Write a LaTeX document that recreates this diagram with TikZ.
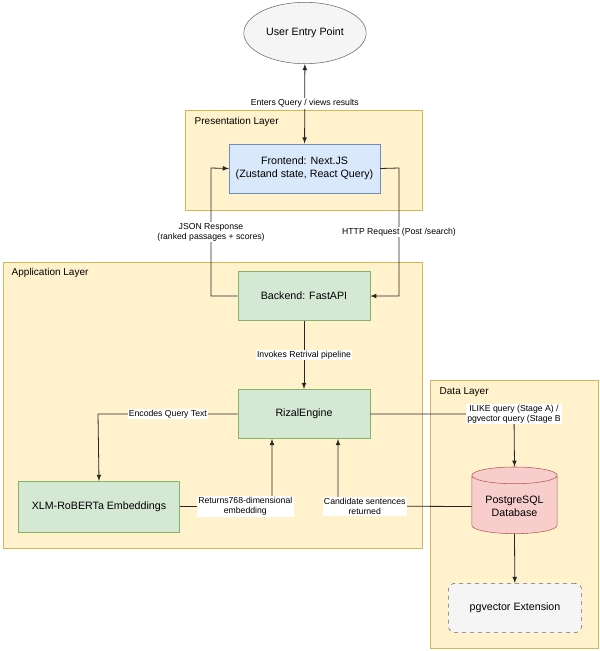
\documentclass[tikz,border=0pt]{standalone}
\usepackage{fontspec}
\setmainfont{Liberation Sans}
\usetikzlibrary{shapes.geometric}
\definecolor{layerfill}{HTML}{FFF2CC}
\definecolor{layerdraw}{HTML}{D6B656}
\definecolor{bluefill}{HTML}{DAE8FC}
\definecolor{bluedraw}{HTML}{6C8EBF}
\definecolor{greenfill}{HTML}{D5E8D4}
\definecolor{greendraw}{HTML}{82B366}
\definecolor{redfill}{HTML}{F8CECC}
\definecolor{reddraw}{HTML}{B85450}
\definecolor{grayfill}{HTML}{F5F5F5}
\definecolor{graydraw}{HTML}{666666}
\tikzset{
layer/.style={draw=layerdraw, fill=layerfill},
box/.style={draw=#1draw, fill=#1fill, font=\fontsize{8}{10}\selectfont, align=center},
elabel/.style={fill=white, inner sep=1pt, font=\fontsize{6.5}{7.5}\selectfont, align=center},
link/.style={draw=black!85, line width=0.6pt, -latex},
}
\begin{document}
\begin{tikzpicture}[x=0.75pt, y=-0.75pt]
\useasboundingbox (0,0) rectangle (600,651);
%% layers
\draw[layer] (185,110) rectangle (422,210);
\node[anchor=west, font=\fontsize{7.5}{9}\selectfont] (preslbl) at (190,122) {Presentation Layer};
\draw[layer] (3,262) rectangle (422,548);
\node[anchor=west, font=\fontsize{7.5}{9}\selectfont] (applbl) at (7,273) {Application Layer};
\draw[layer] (430,380) rectangle (598,648);
\node[anchor=west, font=\fontsize{7.5}{9}\selectfont] (datalbl) at (435,392) {Data Layer};
%% nodes
\node[box=gray, ellipse, minimum width=75pt, minimum height=46pt] (user) at (305,33) {User Entry Point};
\node[box=blue, minimum width=113pt, minimum height=37pt] (front) at (304.5,168.5) {Frontend: Next.JS\\(Zustand state, React Query)};
\node[box=green, minimum width=99pt, minimum height=37pt] (back) at (304,296) {Backend: FastAPI};
\node[box=green, minimum width=99pt, minimum height=37pt] (engine) at (304,414) {RizalEngine};
\node[box=green, minimum width=121pt, minimum height=38pt] (xlm) at (99,506.5) {XLM-RoBERTa Embeddings};
\node[box=red, cylinder, shape border rotate=90, aspect=0.25, minimum width=64pt, minimum height=50pt] (pg) at (514.5,506.5) {PostgreSQL\\Database};
\node[box=gray, rounded corners=5pt, dashed, minimum width=100pt, minimum height=37pt] (ext) at (515,608) {pgvector Extension};
%% connectors
\draw[link, latex-latex] (front) -- node[elabel] {Enters Query / views results} (user);
\draw[link] (back.west) -- (211,296) -- node[elabel] {JSON Response\\(ranked passages + scores)} (211,168) -- (front.west);
\draw[link] (front.east) -- (399,168) -- node[elabel] {HTTP Request (Post /search)} (399,296) -- (back.east);
\draw[link] (back) -- node[elabel] {Invokes Retrival pipeline} (engine);
\draw[link] (engine.west) -- node[elabel] {Encodes Query Text} (98,414) -- (xlm.north);
\draw[link] (xlm.east) -- node[elabel, pos=0.71] {Returns768-dimensional\\embedding} (272,506) -- (272,439);
\draw[link] (engine.east) -- node[elabel, pos=1] {ILIKE query (Stage A) /\\pgvector query (Stage B} (514,414) -- (pg.top);
\draw[link] (pg.west) -- node[elabel, pos=0.8] {Candidate sentences\\returned} (338,506) -- (338,439);
\draw[link] (pg.bottom) -- (ext);
\end{tikzpicture}
\end{document}
